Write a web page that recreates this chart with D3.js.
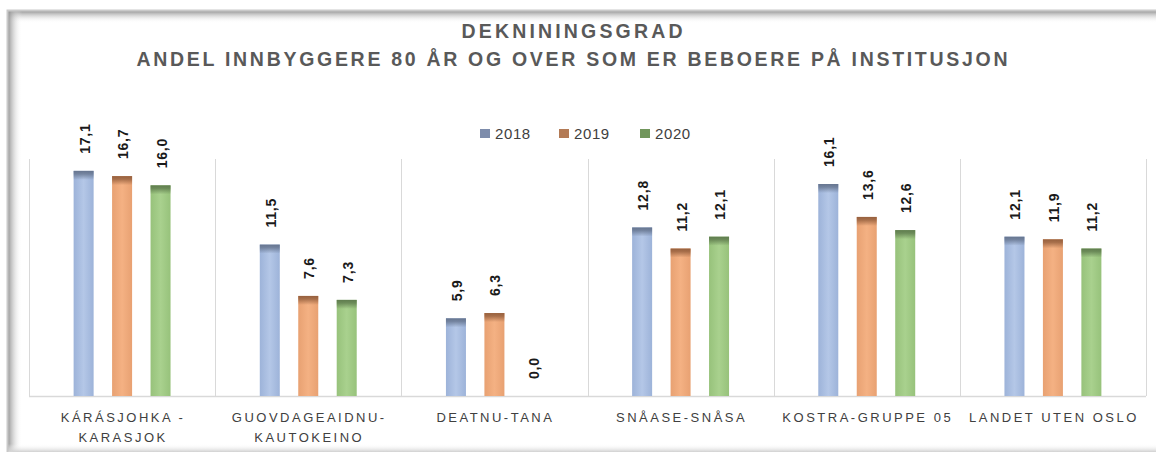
<!DOCTYPE html>
<html>
<head>
<meta charset="utf-8">
<script src="https://cdn.jsdelivr.net/npm/d3@7"></script>
<style>
  body { margin: 0; background: #fff; }
  svg { display: block; }
</style>
</head>
<body>
<div id="chart-area"></div>
<script>
// data
var categories = ["KÁRÁSJOHKA -\nKARASJOK", "GUOVDAGEAIDNU-\nKAUTOKEINO", "DEATNU-TANA",
  "SNÅASE-SNÅSA", "KOSTRA-GRUPPE 05", "LANDET UTEN OSLO"];
var series = ["2018", "2019", "2020"];
var v2018 = [17.1, 11.5, 5.9, 12.8, 16.1, 12.1];
var v2019 = [16.7, 7.6, 6.3, 11.2, 13.6, 11.9];
var v2020 = [16.0, 7.3, 0.0, 12.1, 12.6, 11.2];
var yMax = 18;

var W = 1156, H = 452;
var plot = {left: 29, right: 1146, top: 159, bottom: 396};

var colors = {
  "2018": {main: "#b4c7e7", edge: "#9db3d9", cap: "#66758f", key: "#7d8cab"},
  "2019": {main: "#f4b183", edge: "#e8a172", cap: "#96603e", key: "#b37a55"},
  "2020": {main: "#a9d18e", edge: "#97c27b", cap: "#5f7c4e", key: "#71965c"}
};

var svg = d3.select("#chart-area").append("svg")
  .attr("width", W)
  .attr("height", H);

var defs = svg.append("defs");

series.forEach(function(s) {
  var c = colors[s];
  var gh = defs.append("linearGradient").attr("id", "gh" + s)
    .attr("x1", 0).attr("x2", 1).attr("y1", 0).attr("y2", 0);
  gh.append("stop").attr("offset", "0%").attr("stop-color", c.edge);
  gh.append("stop").attr("offset", "50%").attr("stop-color", c.main);
  gh.append("stop").attr("offset", "100%").attr("stop-color", c.edge);
  var gv = defs.append("linearGradient").attr("id", "gv" + s)
    .attr("x1", 0).attr("x2", 0).attr("y1", 0).attr("y2", 1);
  gv.append("stop").attr("offset", "0%").attr("stop-color", c.cap).attr("stop-opacity", 1);
  gv.append("stop").attr("offset", "35%").attr("stop-color", c.cap).attr("stop-opacity", 0.8);
  gv.append("stop").attr("offset", "100%").attr("stop-color", c.cap).attr("stop-opacity", 0);
});

// frame shadows
var sTop = defs.append("linearGradient").attr("id", "sTop")
  .attr("x1", 0).attr("x2", 0).attr("y1", 0).attr("y2", 1);
sTop.append("stop").attr("offset", "0%").attr("stop-color", "#8c8c8c").attr("stop-opacity", 0.9);
sTop.append("stop").attr("offset", "100%").attr("stop-color", "#ffffff").attr("stop-opacity", 0);
var sLeft = defs.append("linearGradient").attr("id", "sLeft")
  .attr("x1", 0).attr("x2", 1).attr("y1", 0).attr("y2", 0);
sLeft.append("stop").attr("offset", "0%").attr("stop-color", "#8c8c8c").attr("stop-opacity", 0.9);
sLeft.append("stop").attr("offset", "100%").attr("stop-color", "#ffffff").attr("stop-opacity", 0);
var sBot = defs.append("linearGradient").attr("id", "sBot")
  .attr("x1", 0).attr("x2", 0).attr("y1", 0).attr("y2", 1);
sBot.append("stop").attr("offset", "0%").attr("stop-color", "#ffffff").attr("stop-opacity", 0);
sBot.append("stop").attr("offset", "100%").attr("stop-color", "#d0d0d0").attr("stop-opacity", 1);

svg.append("rect").attr("x", 8).attr("y", 11).attr("width", 1160).attr("height", 12)
  .attr("fill", "url(#sTop)");
svg.append("rect").attr("x", 8).attr("y", 11).attr("width", 14).attr("height", 440)
  .attr("fill", "url(#sLeft)");
svg.append("rect").attr("x", 8).attr("y", 444).attr("width", 1160).attr("height", 8)
  .attr("fill", "url(#sBot)");
svg.append("path").attr("d", "M1160,10.5H7.5V452")
  .attr("fill", "none").attr("stroke", "#c9c9c9").attr("stroke-width", 2);

// scales
var x0 = d3.scaleBand().domain(categories).range([plot.left, plot.right]).padding(0);
var x1 = d3.scaleBand().domain(series).range([0, x0.bandwidth()])
  .paddingInner(0.48).paddingOuter(1.16);
var y = d3.scaleLinear().domain([0, yMax]).range([plot.bottom, plot.top]);

var g = svg.append("g");

// category separators
var bounds = categories.map(function(c) { return x0(c); }).concat([plot.right]);
g.selectAll("line.sep").data(bounds).enter().append("line")
  .attr("class", "sep")
  .attr("x1", function(d) { return Math.round(d) + 0.5; })
  .attr("x2", function(d) { return Math.round(d) + 0.5; })
  .attr("y1", plot.top).attr("y2", plot.bottom)
  .attr("stroke", "#d9d9d9").attr("stroke-width", 1);

// x axis line
g.append("line")
  .attr("x1", plot.left).attr("x2", plot.right)
  .attr("y1", plot.bottom + 0.5).attr("y2", plot.bottom + 0.5)
  .attr("stroke", "#d9d9d9").attr("stroke-width", 1.5);

var values = {"2018": v2018, "2019": v2019, "2020": v2020};
var rows = [];
categories.forEach(function(c, i) {
  series.forEach(function(s) {
    rows.push({cat: c, s: s, v: values[s][i]});
  });
});

var fmt = function(v) { return d3.format(".1f")(v).replace(".", ","); };

var bars = g.selectAll("g.bar").data(rows).enter().append("g").attr("class", "bar");

bars.append("rect")
  .attr("x", function(d) { return x0(d.cat) + x1(d.s); })
  .attr("y", function(d) { return y(d.v); })
  .attr("width", x1.bandwidth())
  .attr("height", function(d) { return plot.bottom - y(d.v); })
  .attr("fill", function(d) { return "url(#gh" + d.s + ")"; });

bars.filter(function(d) { return d.v > 0; }).append("rect")
  .attr("x", function(d) { return x0(d.cat) + x1(d.s); })
  .attr("y", function(d) { return y(d.v); })
  .attr("width", x1.bandwidth())
  .attr("height", function(d) { return Math.min(9, plot.bottom - y(d.v)); })
  .attr("fill", function(d) { return "url(#gv" + d.s + ")"; });

// value labels
bars.append("text")
  .attr("transform", function(d) {
    var cx = x0(d.cat) + x1(d.s) + x1.bandwidth() / 2 + 1;
    return "translate(" + cx + "," + (y(d.v) - 17) + ") rotate(-90)";
  })
  .attr("dominant-baseline", "central")
  .attr("text-anchor", "start")
  .attr("font-family", "Liberation Sans, Arial, sans-serif")
  .attr("font-weight", "bold")
  .attr("font-size", "14px")
  .attr("letter-spacing", "0.8px")
  .attr("fill", "#1a1a1a")
  .text(function(d) { return fmt(d.v); });

// category labels
var catLabels = g.selectAll("text.cat").data(categories).enter().append("text")
  .attr("class", "cat")
  .attr("x", function(d) { return x0(d) + x0.bandwidth() / 2 + 1; })
  .attr("y", 422)
  .attr("text-anchor", "middle")
  .attr("font-family", "Liberation Sans, Arial, sans-serif")
  .attr("font-size", "13px")
  .attr("letter-spacing", "2.5px")
  .attr("fill", "#404040");

catLabels.each(function(d) {
  var t = d3.select(this);
  var cx = t.attr("x");
  d.split("\n").forEach(function(line, i) {
    t.append("tspan").attr("x", cx).attr("dy", i === 0 ? 0 : 20).text(line);
  });
});

// legend
var legendX = [480, 559, 640];
var legend = svg.selectAll("g.legend").data(series).enter().append("g")
  .attr("class", "legend")
  .attr("transform", function(d, i) { return "translate(" + legendX[i] + ",129)"; });
legend.append("rect")
  .attr("width", 10).attr("height", 9)
  .attr("fill", function(d) { return colors[d].key; });
legend.append("text")
  .attr("x", 15).attr("y", 9.5)
  .attr("font-family", "Liberation Sans, Arial, sans-serif")
  .attr("font-size", "15px")
  .attr("letter-spacing", "0.6px")
  .attr("fill", "#404040")
  .text(function(d) { return d; });

// title
var titleLines = ["DEKNININGSGRAD", "ANDEL INNBYGGERE 80 ÅR OG OVER SOM ER BEBOERE PÅ INSTITUSJON"];
var titleWidths = [221, 871];
svg.selectAll("text.title").data(titleLines).enter().append("text")
  .attr("class", "title")
  .attr("x", 572)
  .attr("y", function(d, i) { return 38 + i * 28; })
  .attr("text-anchor", "middle")
  .attr("font-family", "Liberation Sans, Arial, sans-serif")
  .attr("font-weight", "bold")
  .attr("font-size", "19.5px")
  .attr("textLength", function(d, i) { return titleWidths[i]; })
  .attr("lengthAdjust", "spacing")
  .attr("fill", "#595959")
  .text(function(d) { return d; });
</script>
</body>
</html>
